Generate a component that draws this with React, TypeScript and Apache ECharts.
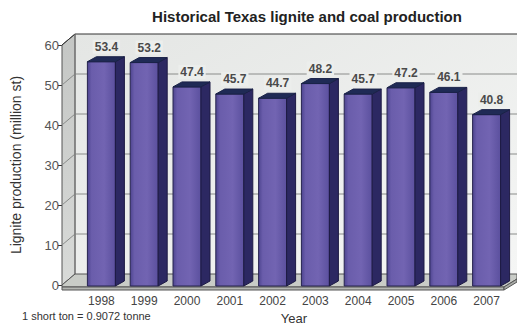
import React, { useEffect, useRef } from "react";
import * as echarts from "echarts";

// Texas lignite and coal production, million short tons
const years = ["1998", "1999", "2000", "2001", "2002", "2003", "2004", "2005", "2006", "2007"];
const production = [53.4, 53.2, 47.4, 45.7, 44.7, 48.2, 45.7, 47.2, 46.1, 40.8];
const yMin = 0;
const yMax = 60;
const yStep = 10;

const titleText = "Historical Texas lignite and coal production";
const yName = "Lignite production (million st)";
const xName = "Year";
const footnote = "1 short ton = 0.9072 tonne";

// 3D box geometry
const AXIS_OFFSET = 18; // front axis sits left of the grid
const WALL_DX = 13; // depth offset of the back wall
const WALL_DY = -11;
const BAR_HALF = 14;
const BAR_DX = 9;
const BAR_DY = 5;
const BAR_PERSPECTIVE = 1.05;

const FONT = "'Liberation Sans', Arial, sans-serif";

function renderWalls(params: any, api: any) {
  const cs = params.coordSys;
  const frontX = cs.x - AXIS_OFFSET;
  const backX = frontX + WALL_DX;
  const rightX = 517;
  const y0 = api.coord([0, yMin])[1];
  const yTop = api.coord([0, yMax])[1];
  const floorFrontRight = cs.x + cs.width - 4;

  const children: any[] = [];

  // back wall
  children.push({
    type: "rect",
    shape: { x: backX, y: yTop + WALL_DY, width: rightX - backX, height: y0 - yTop },
    style: {
      fill: new echarts.graphic.LinearGradient(0, 0, 1, 1, [
        { offset: 0, color: "#e4e6e4" },
        { offset: 1, color: "#f5f6f5" },
      ]),
    },
  });
  // left side wall
  children.push({
    type: "polygon",
    shape: {
      points: [
        [frontX, yTop],
        [backX, yTop + WALL_DY],
        [backX, y0 + WALL_DY],
        [frontX, y0],
      ],
    },
    style: {
      fill: new echarts.graphic.LinearGradient(0, 0, 0, 1, [
        { offset: 0, color: "#c4c6c4" },
        { offset: 1, color: "#d8dad8" },
      ]),
      stroke: "#555",
      lineWidth: 1,
    },
  });

  // grid lines on both walls
  for (let v = yMin + yStep; v <= yMax; v += yStep) {
    const y = api.coord([0, v])[1];
    children.push({
      type: "line",
      shape: { x1: backX, y1: y + WALL_DY, x2: rightX, y2: y + WALL_DY },
      style: { stroke: v === yMax ? "#333" : "#8a8c8a", lineWidth: 1 },
    });
    children.push({
      type: "line",
      shape: { x1: frontX, y1: y, x2: backX, y2: y + WALL_DY },
      style: { stroke: v === yMax ? "#333" : "#8a8c8a", lineWidth: 1 },
    });
  }
  // wall corner
  children.push({
    type: "line",
    shape: { x1: backX, y1: yTop + WALL_DY, x2: backX, y2: y0 + WALL_DY },
    style: { stroke: "#777", lineWidth: 1 },
  });

  // floor
  children.push({
    type: "polygon",
    shape: {
      points: [
        [frontX, y0 + 2],
        [floorFrontRight, y0 + 2],
        [rightX, y0 - 6],
        [rightX, y0 + WALL_DY],
        [backX, y0 + WALL_DY],
        [frontX, y0],
      ],
    },
    style: { fill: "#c9ccc7", stroke: "#555", lineWidth: 1 },
  });
  children.push({
    type: "polygon",
    shape: {
      points: [
        [frontX, y0 + 2],
        [floorFrontRight, y0 + 2],
        [floorFrontRight, y0 + 5],
        [frontX, y0 + 5],
      ],
    },
    style: { fill: "#b4b6b2", stroke: "#555", lineWidth: 1 },
  });
  children.push({
    type: "polygon",
    shape: {
      points: [
        [floorFrontRight, y0 + 2],
        [rightX, y0 - 6],
        [rightX, y0 - 3],
        [floorFrontRight, y0 + 5],
      ],
    },
    style: { fill: "#a9aba7", stroke: "#555", lineWidth: 1 },
  });

  return { type: "group", children };
}

function renderBar(params: any, api: any) {
  const i = api.value(0);
  const v = api.value(1);
  const [cx, yv] = api.coord([i, v]);
  const y0 = api.coord([i, yMin])[1];
  const bottom = y0 + 1;
  const top = bottom - (y0 - yv) * BAR_PERSPECTIVE;
  const l = cx - BAR_HALF;
  const r = cx + BAR_HALF;

  return {
    type: "group",
    children: [
      {
        type: "rect",
        shape: { x: l, y: top, width: r - l, height: bottom - top },
        style: {
          fill: new echarts.graphic.LinearGradient(0, 0, 1, 0, [
            { offset: 0, color: "#4e4590" },
            { offset: 0.15, color: "#6a5dab" },
            { offset: 0.6, color: "#7264b2" },
            { offset: 1, color: "#5b509e" },
          ]),
          stroke: "#27244f",
          lineWidth: 1,
        },
      },
      {
        type: "polygon",
        shape: {
          points: [
            [r, top],
            [r + BAR_DX, top - BAR_DY],
            [r + BAR_DX, bottom - BAR_DY],
            [r, bottom],
          ],
        },
        style: { fill: "#2c2862", stroke: "#1d1a44", lineWidth: 1 },
      },
      {
        type: "polygon",
        shape: {
          points: [
            [l, top],
            [r, top],
            [r + BAR_DX, top - BAR_DY],
            [l + BAR_DX, top - BAR_DY],
          ],
        },
        style: { fill: "#1f2a55", stroke: "#1a2248", lineWidth: 1 },
      },
      {
        type: "text",
        x: cx + 5,
        y: top - BAR_DY - 10,
        style: {
          text: v.toFixed(1),
          align: "center",
          verticalAlign: "middle",
          font: `bold 12px ${FONT}`,
          fill: "#4a4a4a",
          backgroundColor: "#eceeec",
          padding: [1, 2],
        },
      },
    ],
  };
}

export default function App() {
  const ref = useRef<HTMLDivElement>(null);

  useEffect(() => {
    if (!ref.current) return;
    const chart = echarts.init(ref.current, undefined, { renderer: "svg" });
    chart.setOption({
      animation: false,
      backgroundColor: "#ffffff",
      textStyle: { fontFamily: FONT },
      grid: { left: 80, right: 9, top: 45, bottom: 41, outerBoundsMode: "none" },
      xAxis: {
        type: "category",
        data: years,
        axisLine: { show: false },
        axisTick: { show: false },
        axisLabel: { margin: 10, fontSize: 12, color: "#444" },
        name: xName,
        nameLocation: "middle",
        nameGap: 27,
        nameTextStyle: { fontSize: 13, color: "#333" },
      },
      yAxis: {
        type: "value",
        min: yMin,
        max: yMax,
        interval: yStep,
        offset: AXIS_OFFSET,
        axisLine: { show: true, lineStyle: { color: "#333", width: 1 } },
        axisTick: { show: true, length: 4, lineStyle: { color: "#333" } },
        axisLabel: { margin: 3, fontSize: 13, color: "#555" },
        splitLine: { show: false },
        name: yName,
        nameLocation: "middle",
        nameGap: 39,
        nameTextStyle: { fontSize: 14, color: "#333" },
      },
      graphic: [
        {
          type: "text",
          x: 307,
          y: 16,
          style: {
            text: titleText,
            align: "center",
            verticalAlign: "middle",
            font: `bold 15px ${FONT}`,
            fill: "#222",
          },
        },
        {
          type: "text",
          x: 22,
          y: 316,
          style: {
            text: footnote,
            align: "left",
            verticalAlign: "middle",
            font: `11px ${FONT}`,
            fill: "#333",
          },
        },
      ],
      series: [
        {
          type: "custom",
          name: "walls",
          silent: true,
          z: 1,
          data: [[0, 0]],
          renderItem: renderWalls,
        },
        {
          type: "custom",
          name: "production",
          z: 3,
          data: production.map((v, i) => [i, v]),
          encode: { x: 0, y: 1 },
          renderItem: renderBar,
        },
      ],
    });
    return () => chart.dispose();
  }, []);

  return (
    <div
      ref={ref}
      style={{ position: "fixed", left: 0, top: 0, width: 517, height: 326, background: "#fff" }}
    />
  );
}
